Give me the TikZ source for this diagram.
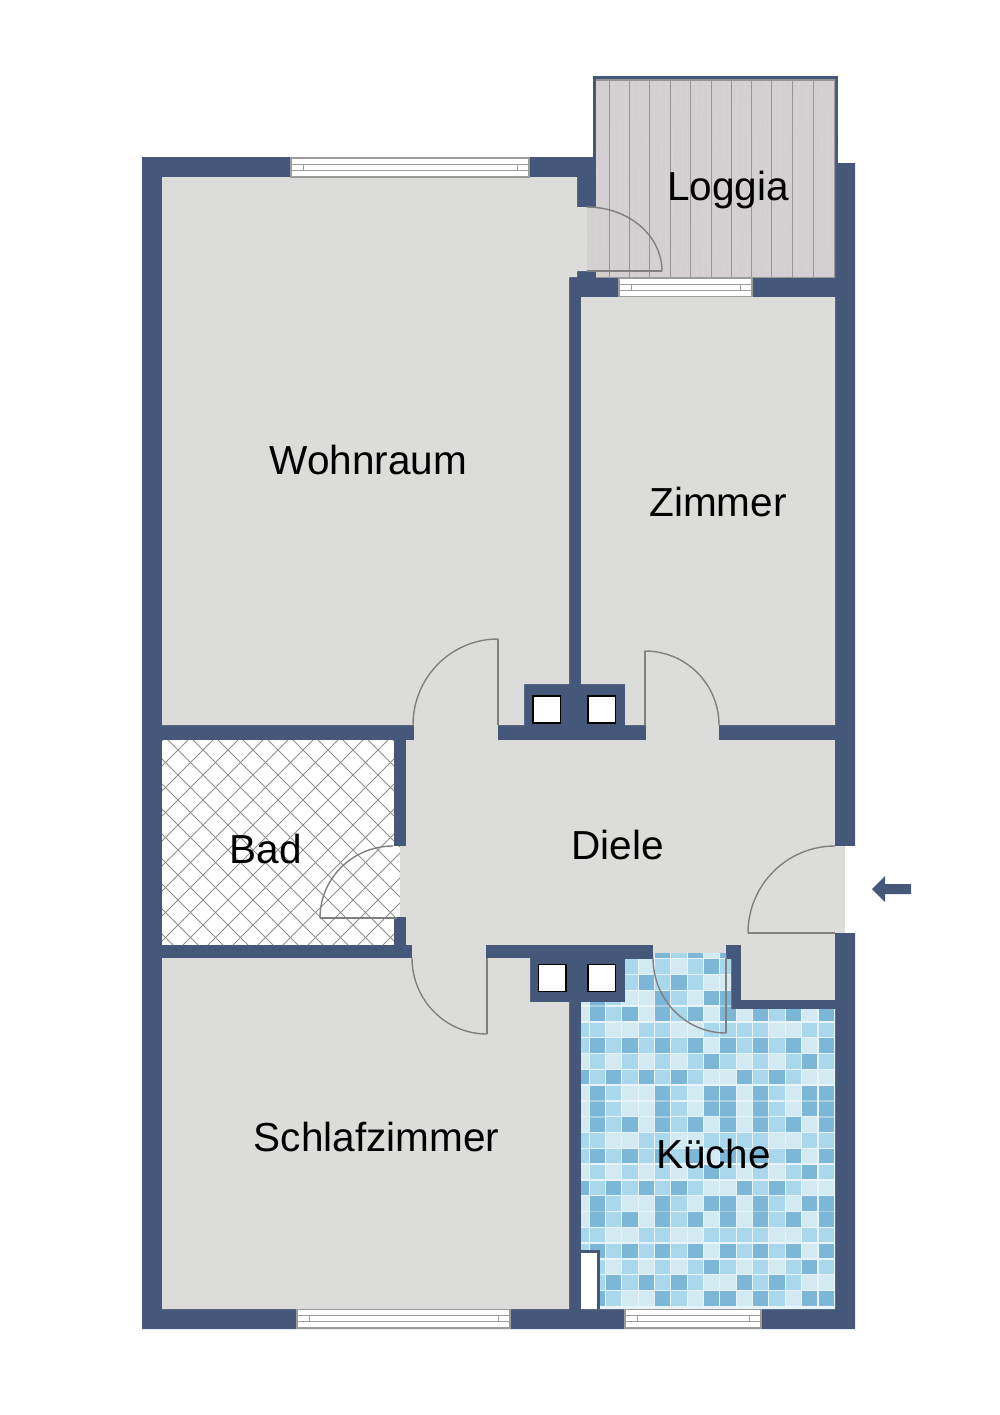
\documentclass[tikz,border=0pt]{standalone}
\usepackage{fontspec}
\setmainfont{Liberation Sans}
\usetikzlibrary{calc}
\definecolor{wallc}{HTML}{46587A}
\definecolor{roomc}{HTML}{DCDCDB}
\definecolor{woodc}{HTML}{D4CFD0}
\definecolor{grainc}{HTML}{DAD6D7}
\definecolor{plankc}{HTML}{989595}
\definecolor{doorc}{HTML}{808080}
\definecolor{frame}{HTML}{9C9C9C}
\definecolor{hatchc}{HTML}{8F8F8F}
\definecolor{grout}{HTML}{E8F4F8}
\definecolor{tilep}{HTML}{D3EAF3}
\definecolor{tilel}{HTML}{A9D7EB}
\definecolor{tiled}{HTML}{7DB7D7}
\colorlet{seamc}{tiled!60!grout}
\tikzset{
  wall/.style={fill=wallc,draw=none},
  room/.style={fill=roomc,draw=none},
  swing/.style={draw=doorc,line width=1.05pt},
  flue/.style={fill=white,draw=black,line width=1pt},
  label/.style={anchor=base,font=\fontsize{30.4}{36}\selectfont,text=black,inner sep=0pt}
}
% arc of a door: hinge (#1,#2), end on the horizontal arm at x=#3, end on the vertical arm at y=#4
\newcommand{\doorarc}[4]{%
  \draw[swing,line cap=round] (#3,#2) .. controls ($(#3,#2)!0.5523!(#3,#4)$) and ($(#1,#4)!0.5523!(#3,#4)$) .. (#1,#4);}
% window: x1 x2 y1 y2
\newcommand{\windowh}[4]{%
  \pgfmathsetmacro\wa{#3+(#4-#3)*0.34}\pgfmathsetmacro\wb{#3+(#4-#3)*0.66}%
  \pgfmathsetmacro\ta{#1+12}\pgfmathsetmacro\tb{#2-12}%
  \fill[white] (#1,#3) rectangle (#2,#4);
  \draw[frame,line width=0.8pt] (#1,\wa) -- (#2,\wa) (#1,\wb) -- (#2,\wb);
  \draw[frame,line width=0.5pt] (\ta,\wa) -- (\ta,\wb) (\tb,\wa) -- (\tb,\wb);
  \draw[frame,line width=0.9pt] (#1,#3) rectangle (#2,#4);}
\def\patA{p,d,l,d,p,d,l,d,p,d,p,d,l,d,p,d}
\def\patB{l,l,p,p,l,l,p,p,l,l,l,l,p,p,l,l}
\def\patC{l,d,l,d,l,d,l,d,p,d,l,d,l,d,p,d}
\def\patD{p,l,p,l,p,l,p,l,d,l,p,l,p,l,d,l}
\def\patE{d,l,d,l,d,l,d,l,p,p,d,l,d,l,p,p}
\def\patF{p,d,l,p,p,d,l,p,d,d,p,d,l,p,d,d}
\begin{document}
\begin{tikzpicture}[x=0.75pt,y=-0.75pt]
\useasboundingbox (0,0) rectangle (1000,1415);
\fill[white] (0,0) rectangle (1000,1415);

% --- wall mass
\fill[wall] (593,76) rectangle (838,170);
\fill[wall] (142,157) -- (596,157) -- (596,163) -- (855,163) -- (855,1329) -- (142,1329) -- cycle;

% --- loggia
\fill[woodc] (596,79) -- (835,79) -- (835,277) -- (596,277) -- (596,271) -- (587,271) -- (587,207) -- (596,207) -- cycle;
\begin{scope}
\clip (596,79) rectangle (835,277) (587,207) rectangle (596,271);
\pgfmathsetseed{7}
\foreach \gx in {590,597,...,835}{
  \pgfmathsetmacro\ga{\gx+rand*2}\pgfmathsetmacro\gb{\gx+rand*3}\pgfmathsetmacro\gc{\gx+rand*3}
  \draw[grainc,line width=0.4pt] (\ga,79) .. controls (\gb,140) and (\gc,210) .. (\ga,277);
}
\end{scope}
\foreach \px in {609.7,629.7,649.7,670.3,690.3,711,731.3,751.7,771.7,792.3,813}{
  \draw[plankc,line width=0.7pt] (\px,79) -- (\px,277);
}
\draw[plankc,line width=0.8pt] (596,80) -- (834.5,80) -- (834.5,277);
\draw[plankc,line width=0.6pt] (596,277) -- (835,277);

% --- plain rooms
\fill[room] (162,177) -- (577,177) -- (577,207) -- (587,207) -- (587,271) -- (577,271) -- (577,277) -- (569,277) -- (569,684) -- (524,684) -- (524,725) -- (162,725) -- cycle;
\fill[room] (581,297) -- (835,297) -- (835,725) -- (625,725) -- (625,684) -- (581,684) -- cycle;
\fill[room] (162,958) -- (530,958) -- (530,1002) -- (569,1002) -- (569,1309) -- (162,1309) -- cycle;
% Diele with its door openings
\fill[room] (406,740) rectangle (835,945);
\fill[room] (414,725) rectangle (498,741);
\fill[room] (646,725) rectangle (719,741);
\fill[room] (412,944) rectangle (486,959);
\fill[room] (653,944) rectangle (726,953);
\fill[room] (741,944) rectangle (835,1000);
\fill[wall] (726,945) rectangle (741,959);
\fill[room] (834,846) rectangle (845,933);
\fill[white] (845,846) rectangle (856,933);
\fill[room] (400,846) rectangle (407,917);

% --- bathroom
\fill[white] (162,740) rectangle (394,945);
\fill[white] (393,846) rectangle (400,917);
\begin{scope}
\clip (162,740) rectangle (394,945) (393.9,846) rectangle (400,917);
\foreach \n in {-6,...,21}{
  \draw[hatchc,line width=0.6pt] ({28+25*\n},1000) -- ({28+25*\n+300},700);
}
\foreach \n in {-12,...,12}{
  \draw[hatchc,line width=0.6pt] ({203+25*\n-100},700) -- ({203+25*\n+200},1000);
}
\end{scope}

% --- kitchen
\begin{scope}
\clip (653,953) -- (726,953) -- (726,959) -- (731,959) -- (731,1009) -- (835,1009) -- (835,1309) -- (581,1309) -- (581,1002) -- (625,1002) -- (625,959) -- (653,959) -- cycle;
\fill[grout] (575,945) rectangle (840,1315);
\foreach \r [count=\k from 0] in {C,D,E,F,A,B,C,D,E,F,F,A,B,C,D,E,F,A,B,C,D,E,F}{
  \pgfmathsetmacro\cy{950.8+15.8*\k}
  \expandafter\let\expandafter\curpat\csname pat\r\endcsname
  \foreach \c [count=\j from 0] in \curpat {
    \pgfmathsetmacro\cx{581+16.34*\j}
    \fill[tile\c] (\cx-7.6,\cy-7.2) rectangle (\cx+7.6,\cy+7.2);
  }
}
% dark tiles that run together from row to row
\foreach \k in {3,10,16}{
  \foreach \j in {1,5,9,11,15}{
    \pgfmathsetmacro\cy{950.8+15.8*\k}\pgfmathsetmacro\cx{581+16.34*\j}
    \fill[seamc] (\cx-7.6,\cy+7) rectangle (\cx+7.6,\cy+8.8);
  }
}
\foreach \j in {1,5,8,9,11,14,15}{
  \pgfmathsetmacro\cy{950.8+15.8*9}\pgfmathsetmacro\cx{581+16.34*\j}
  \fill[seamc] (\cx-7.6,\cy+7) rectangle (\cx+7.6,\cy+8.8);
}
\end{scope}
\fill[wallc] (581,1250) rectangle (600,1309);
\fill[white] (581,1253) rectangle (597,1309);

% --- flues
\foreach \fx/\fy in {533/696,588/696,538.5/964.5,588/964.5}{
  \draw[flue] (\fx,\fy) rectangle ++(27.5,27);
}

% --- windows
\windowh{291}{529}{158}{177}
\windowh{619}{752}{278}{296.5}
\windowh{297}{510}{1309.5}{1328}
\windowh{625}{761}{1309.5}{1328}

% --- doors
\doorarc{498}{725}{413}{639}
\draw[swing] (498,725) -- (498,639);
\doorarc{645}{725}{719}{651}
\draw[swing] (645,725) -- (645,651);
\doorarc{835}{933}{748}{846}
\draw[swing] (748,933) -- (835,933);
\doorarc{393}{918}{320}{846}
\draw[swing] (320,918) -- (397,918);
\doorarc{487}{958}{412}{1034}
\draw[swing] (487,958) -- (487,1034);
\doorarc{726}{958}{653}{1033}
\draw[swing] (726,958) -- (726,1033);
\doorarc{587}{271}{662}{207}
\draw[swing] (587,271) -- (662,271);

% --- entry arrow
\fill[wallc] (872,889) -- (885,876) -- (885,884) -- (911,884) -- (911,894) -- (885,894) -- (885,902) -- cycle;

% --- labels
\node[label] (loggia) at (728,200) {Loggia};
\node[label] (wohnraum) at (368.5,474) {Wohnraum};
\node[label] (zimmer) at (718,516) {Zimmer};
\node[label] (diele) at (617.5,859) {Diele};
\node[label] (bad) at (265.5,863) {Bad};
\node[label] (schlaf) at (376.5,1151) {Schlafzimmer};
\node[label] (kueche) at (713.5,1168) {Küche};
\end{tikzpicture}
\end{document}
